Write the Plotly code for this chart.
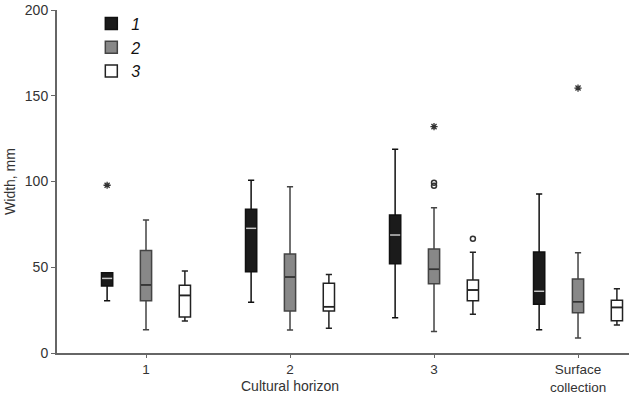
import plotly.graph_objects as go

categories = ["1", "2", "3", "Surface<br>collection"]
series_names = ["1", "2", "3"]
x_title = "Cultural horizon"
y_title = "Width, mm"

# per series, per category
lower = [[30.5, 29.6, 20.6, 13.6], [13.6, 13.4, 12.6, 8.7], [18.7, 14.4, 22.6, 16.3]]
q1 = [[39.0, 47.4, 52.1, 28.4], [30.5, 24.5, 40.4, 23.5], [21.0, 24.5, 30.5, 18.8]]
median = [[43.5, 72.7, 68.8, 36.0], [39.7, 44.3, 48.8, 29.9], [33.6, 27.0, 36.7, 26.6]]
q3 = [[46.8, 83.8, 80.5, 58.9], [59.7, 57.7, 60.6, 43.1], [39.5, 40.6, 42.6, 30.7]]
upper = [[46.8, 100.7, 118.8, 92.7], [77.6, 97.0, 84.7, 58.5], [47.8, 45.7, 58.7, 37.5]]

# outliers: (series index, category index, value)
extreme_series = [0, 1, 1]
extreme_cat = [0, 2, 3]
extreme_val = [97.8, 132.0, 154.5]
mild_series = [1, 1, 2]
mild_cat = [2, 2, 2]
mild_val = [97.5, 99.3, 66.6]

y_ticks = [0, 50, 100, 150, 200]

offsets = [-0.27, 0.0, 0.27]
box_w = 0.078
fills = ["#1b1b1b", "#888888", "#ffffff"]
lines = ["#111111", "#444444", "#222222"]
med_colors = ["#c8c8c8", "#333333", "#222222"]

fig = go.Figure()
for s in range(3):
    xs = [i + offsets[s] for i in range(len(categories))]
    fig.add_trace(go.Box(
        x=xs, q1=q1[s], median=median[s], q3=q3[s],
        lowerfence=lower[s], upperfence=upper[s],
        width=box_w, whiskerwidth=0.55,
        fillcolor=fills[s], line=dict(color=lines[s], width=1.5),
        name="<i>" + series_names[s] + "</i>", boxpoints=False,
        hoverinfo="skip", showlegend=True,
    ))
    mx, my = [], []
    for i in range(len(categories)):
        mx += [xs[i] - box_w / 2 + 0.004, xs[i] + box_w / 2 - 0.004, None]
        my += [median[s][i], median[s][i], None]
    fig.add_trace(go.Scatter(x=mx, y=my, mode="lines",
                             line=dict(color=med_colors[s], width=1.5),
                             showlegend=False, hoverinfo="skip"))

fig.add_trace(go.Scatter(
    x=[extreme_cat[k] + offsets[extreme_series[k]] for k in range(len(extreme_val))],
    y=extreme_val, mode="markers",
    marker=dict(symbol="asterisk-open", size=6, color="#333333",
                line=dict(color="#333333", width=1.3)),
    showlegend=False, hoverinfo="skip"))
fig.add_trace(go.Scatter(
    x=[mild_cat[k] + offsets[mild_series[k]] for k in range(len(mild_val))],
    y=mild_val, mode="markers",
    marker=dict(symbol="circle-open", size=5, color="#333333",
                line=dict(color="#333333", width=1.5)),
    showlegend=False, hoverinfo="skip"))

fig.add_annotation(text=x_title, x=1, xref="x", y=-0.095, yref="paper",
                   xanchor="center", yanchor="middle", showarrow=False,
                   font=dict(size=14, color="#333333"))

fig.update_layout(
    width=629, height=395,
    margin=dict(l=57, r=0, t=10, b=42, autoexpand=False),
    paper_bgcolor="white", plot_bgcolor="white",
    font=dict(family="Arial, Liberation Sans, sans-serif", size=14, color="#333333"),
    boxmode="overlay",
    legend=dict(x=0.06, y=1.01, xanchor="left", yanchor="top",
                font=dict(size=16, color="#111111"), tracegroupgap=4,
                bgcolor="rgba(0,0,0,0)"),
    xaxis=dict(range=[-0.618, 3.354], tickvals=list(range(len(categories))),
               ticktext=categories, showgrid=False, zeroline=False,
               showline=True, linecolor="#666666", linewidth=2,
               ticks="outside", ticklen=3, tickcolor="#666666",
               automargin=False, tickfont=dict(size=13.5)),
    yaxis=dict(range=[0, 200], tickvals=y_ticks, showgrid=False, zeroline=False,
               showline=True, linecolor="#666666", linewidth=2,
               ticks="outside", ticklen=4, tickcolor="#666666",
               automargin=False, tickfont=dict(size=14),
               title=dict(text=y_title, standoff=6, font=dict(size=14))),
)

fig.write_html("out.html", config={"displayModeBar": False},
               post_script="document.body.style.margin='0';document.body.style.overflow='hidden';")
